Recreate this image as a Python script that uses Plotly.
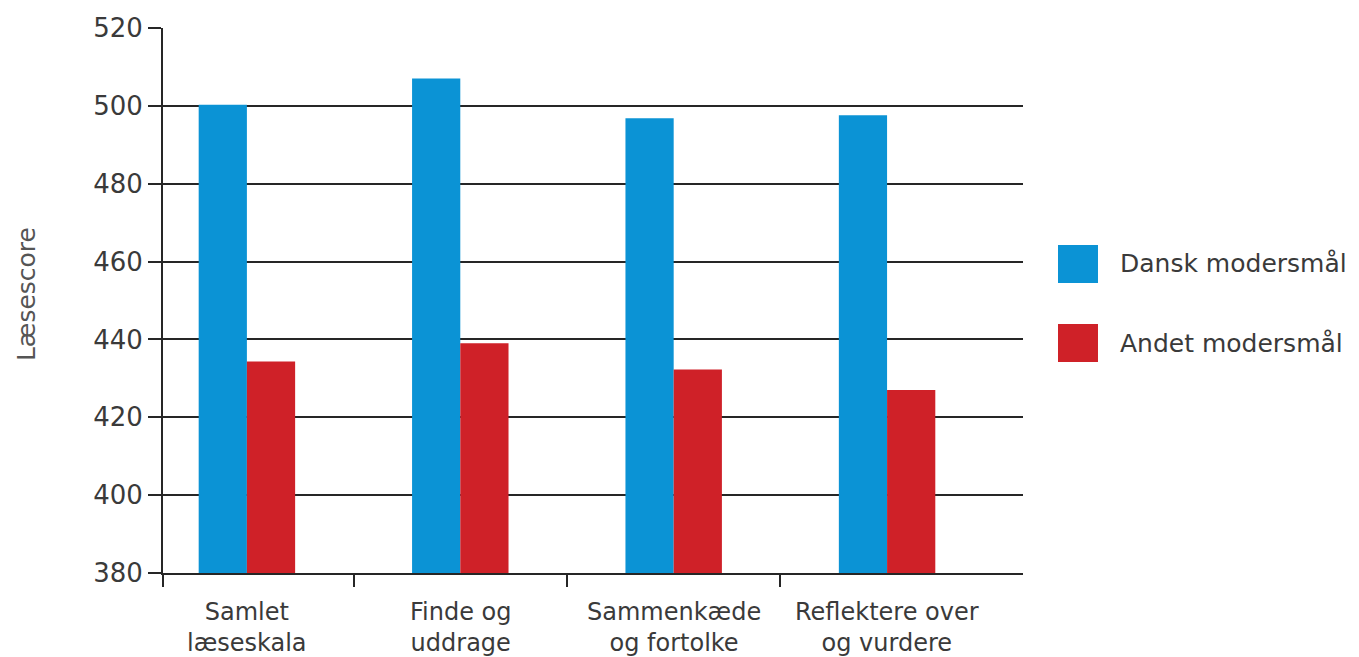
"""Reading scores by mother tongue (Danish vs other) across the reading sub-scales."""

import plotly.graph_objects as go

# Data
categories = ["Samlet<br>læseskala", "Finde og<br>uddrage", "Sammenkæde<br>og fortolke", "Reflektere over<br>og vurdere"]
dansk = [500.3, 507.0, 496.8, 497.6]
andet = [434.3, 439.0, 432.3, 427.0]
series_names = ["Dansk modersmål", "Andet modersmål"]
y_ticks = [380, 400, 420, 440, 460, 480, 500, 520]

BLUE = "#0b93d5"
RED = "#cf2128"
INK = "#262626"
TEXT = "#3a3a3a"
FONT = "DejaVu Sans"

x_pos = list(range(len(categories)))
x_range = [-0.3932, 3.637]
bar_w = 0.226

fig = go.Figure()

fig.add_trace(
    go.Bar(
        x=x_pos,
        y=dansk,
        width=bar_w,
        offset=-bar_w,
        marker=dict(color=BLUE, line=dict(width=0)),
        name=series_names[0],
        showlegend=False
    )
)

fig.add_trace(
    go.Bar(
        x=x_pos,
        y=andet,
        width=bar_w,
        offset=0,
        marker=dict(color=RED, line=dict(width=0)),
        name=series_names[1],
        showlegend=False
    )
)

# Category labels under each group (ticks sit on the group boundaries)
for xi, cat in zip(x_pos, categories):
    fig.add_annotation(
        x=xi, xref="x", y=0, yref="paper",
        text=cat, showarrow=False,
        xanchor="center", yanchor="middle", align="center",
        yshift=-54, borderpad=0,
        font=dict(family=FONT, size=24, color=TEXT)
    )

# Hand-made legend with big square swatches
legend_rows = [(0.567, BLUE, series_names[0]), (0.422, RED, series_names[1])]
for yc, col, label in legend_rows:
    fig.add_shape(
        type="rect", xref="paper", yref="paper",
        x0=1.0407, x1=1.0872, y0=yc - 0.035, y1=yc + 0.035,
        fillcolor=col, line=dict(width=0)
    )
    fig.add_annotation(
        xref="paper", yref="paper", x=1.110, y=yc,
        text=label, showarrow=False, xanchor="left", yanchor="middle",
        font=dict(family=FONT, size=25, color=TEXT)
    )

# Y axis title
fig.add_annotation(
    xref="paper", yref="paper", x=-0.158, y=0.512,
    text="Læsescore", textangle=-90, showarrow=False,
    xanchor="center", yanchor="middle",
    font=dict(family=FONT, size=25, color="#555555")
)

fig.update_layout(
    width=1351,
    height=649,
    autosize=False,
    plot_bgcolor="white",
    paper_bgcolor="white",
    margin=dict(l=155, r=336, t=20, b=84),
    barmode="overlay",
    font=dict(family=FONT, size=26, color=TEXT),
    xaxis=dict(
        range=x_range,
        tickmode="array",
        tickvals=[-0.393, 0.5, 1.5, 2.5],
        ticks="outside",
        ticklen=12,
        tickwidth=1.6,
        tickcolor=INK,
        showticklabels=False,
        showgrid=False,
        zeroline=False,
        showline=True,
        linecolor=INK,
        linewidth=1.6,
        automargin=False
    ),
    yaxis=dict(
        range=[380, 520],
        tickmode="array",
        tickvals=y_ticks,
        ticks="outside",
        ticklen=13,
        tickwidth=1.6,
        tickcolor=INK,
        showgrid=True,
        gridcolor=INK,
        gridwidth=1.8,
        zeroline=False,
        showline=True,
        linecolor=INK,
        linewidth=1.8,
        automargin=False,
        tickfont=dict(family=FONT, size=26, color=TEXT)
    )
)

fig.write_html("out.html")
